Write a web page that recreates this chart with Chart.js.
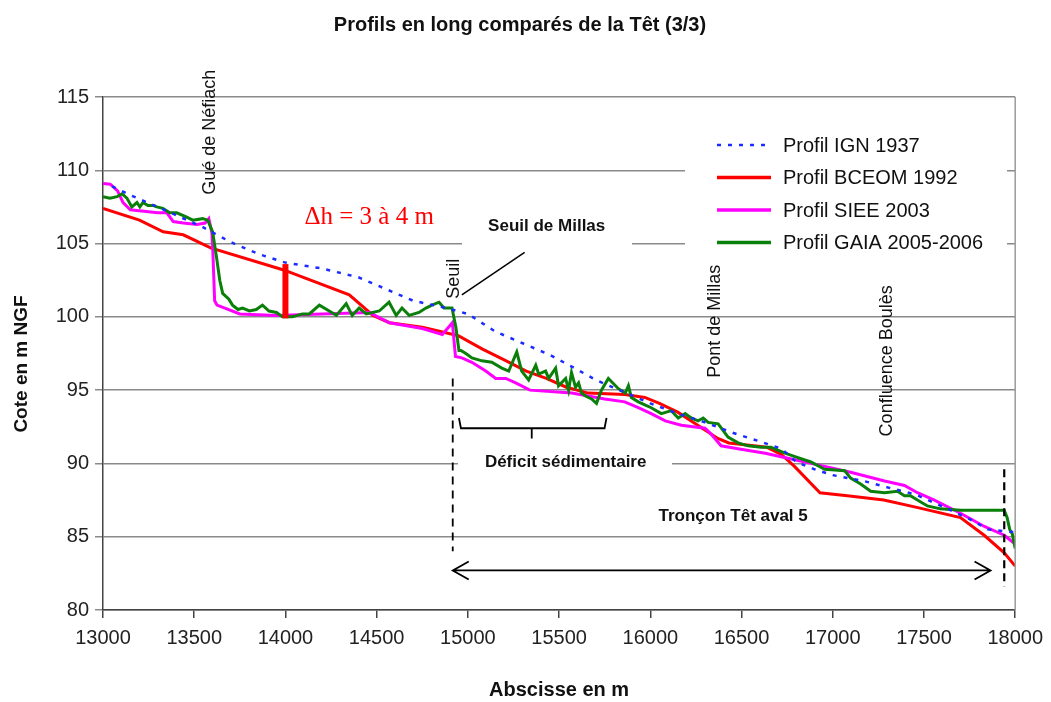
<!DOCTYPE html>
<html><head><meta charset="utf-8">
<script src="https://cdn.jsdelivr.net/npm/chart.js@4.4.0/dist/chart.umd.min.js"></script>
<style>html,body{margin:0;padding:0;background:#fff;}#wrap{width:1051px;height:702px;}</style>
</head><body><div id="wrap"><canvas id="c" width="1051" height="702"></canvas></div>
<script>
const chartTitle = 'Profils en long comparés de la Têt (3/3)';
const xAxisTitle = 'Abscisse en m';
const yAxisTitle = 'Cote en m NGF';
const seriesNames = ['Profil IGN 1937', 'Profil BCEOM 1992', 'Profil SIEE 2003', 'Profil GAIA 2005-2006'];
const seriesColors = ['#1a2cff', '#ff0000', '#ff00ff', '#0a800a'];

const xTicks = [13000,13500,14000,14500,15000,15500,16000,16500,17000,17500,18000];
const yTicks = [80,85,90,95,100,105,110,115];

const ignX = [13050,13150,13300,13550,13700,13850,14000,14200,14400,14550,14700,14850,15000,15150,15300,15450,15600,15700,15850,16000,16150,16300,16450,16600,16720,16800,16900,17000,17170,17320,17450,17630,17750,17850,18000];
const ignY = [108.9,108.3,107.5,106.1,105.1,104.3,103.7,103.3,102.7,101.9,101.1,100.7,100.2,99.0,98.2,97.4,96.4,95.7,94.9,94.1,93.4,92.8,92.1,91.5,91.0,90.1,89.6,89.2,88.8,88.3,87.9,86.9,86.2,85.5,85.3];

const bceomX = [13000,13200,13330,13440,13590,13990,14350,14480,14570,14750,14850,14950,15080,15210,15320,15430,15540,15660,15860,15970,16050,16150,16260,16370,16430,16640,16720,16790,16930,17080,17280,17460,17700,17830,17940,18000];
const bceomY = [107.4,106.6,105.8,105.6,104.7,103.2,101.5,100.1,99.6,99.3,99.0,98.7,97.8,97.0,96.3,95.8,95.2,94.8,94.7,94.5,94.1,93.5,92.6,91.7,91.4,91.1,90.6,89.8,88.0,87.8,87.5,87.0,86.3,85.1,83.9,83.0];

const sieeX = [13000,13040,13080,13110,13150,13300,13350,13385,13440,13515,13560,13580,13597,13602,13612,13625,13750,13950,14200,14460,14570,14750,14860,14915,14932,14967,15022,15098,15153,15208,15262,15340,15570,15750,15860,15934,16005,16082,16170,16300,16333,16388,16480,16630,16810,16956,17098,17284,17393,17464,17557,17700,17831,17940,18000];
const sieeY = [109.1,109.05,108.6,107.8,107.3,107.1,107.1,106.5,106.4,106.3,106.4,106.7,105.7,104.5,101.1,100.8,100.2,100.1,100.2,100.3,99.6,99.2,98.8,99.6,97.3,97.2,96.9,96.3,95.8,95.8,95.5,95.0,94.8,94.4,94.2,93.8,93.4,92.9,92.6,92.4,92.0,91.2,91.0,90.7,90.2,89.8,89.4,88.8,88.5,88.0,87.5,86.6,85.7,85.1,84.5];

const gaiaX = [13000,13038,13077,13104,13131,13158,13186,13202,13219,13246,13273,13295,13328,13366,13404,13459,13492,13546,13574,13601,13623,13640,13656,13690,13710,13740,13765,13803,13840,13874,13910,13951,13984,14038,14093,14131,14186,14240,14279,14333,14366,14404,14443,14514,14568,14607,14639,14678,14732,14770,14803,14842,14869,14913,14934,14951,14962,14989,15022,15077,15131,15186,15224,15268,15295,15333,15372,15388,15426,15443,15481,15497,15536,15552,15568,15590,15607,15623,15645,15678,15705,15732,15770,15825,15863,15880,15896,15934,15970,16005,16060,16115,16153,16191,16224,16262,16290,16317,16372,16426,16481,16536,16607,16661,16738,16809,16880,16956,17066,17098,17153,17208,17284,17355,17393,17426,17464,17519,17590,17700,17940,17956,17970,17984,18000];
const gaiaY = [108.2,108.1,108.2,108.4,108.1,107.5,107.8,107.5,107.8,107.6,107.6,107.5,107.4,107.1,107.1,106.8,106.6,106.7,106.6,105.8,104.0,102.5,101.6,101.2,100.8,100.5,100.6,100.4,100.5,100.8,100.4,100.3,100.0,100.0,100.2,100.2,100.8,100.4,100.1,100.9,100.1,100.6,100.2,100.4,101.0,100.1,100.6,100.1,100.3,100.6,100.8,101.0,100.6,100.6,99.3,97.7,97.7,97.5,97.2,97.0,96.9,96.5,96.3,97.6,96.3,95.7,96.7,96.1,96.3,95.8,96.5,95.3,95.8,95.0,96.2,95.2,95.5,94.8,94.6,94.4,94.1,95.0,95.8,95.1,94.8,95.3,94.5,94.2,94.0,93.8,93.4,93.6,93.1,93.4,93.1,92.9,93.1,92.8,92.7,91.8,91.4,91.2,91.1,91.1,90.7,90.4,90.1,89.6,89.5,89.0,88.6,88.1,88.0,88.1,87.8,87.8,87.5,87.1,86.9,86.8,86.8,86.3,85.5,85.2,84.2];

// Δh bar : abscissa, bottom, top
const deltaBar = [14000, 99.9, 103.6];

const FF = '"Liberation Sans", Arial, sans-serif';
const pts = (xs, ys) => xs.map((v, i) => ({x: v, y: ys[i]}));

const annot = {
  id: 'annot',
  beforeDatasetsDraw(chart) {
    const {ctx} = chart;
    ctx.save();
    ctx.fillStyle = '#fff';
    ctx.fillRect(685, 124, 322, 138);   // legend background
    ctx.fillRect(462, 208, 170, 42);    // "Seuil de Millas" label box
    ctx.fillRect(458, 449, 214, 26);    // "Déficit sédimentaire" label box
    ctx.restore();
  },
  afterDatasetsDraw(chart) {
    const {ctx, chartArea: a, scales: {x, y}} = chart;
    const X = v => x.getPixelForValue(v), Y = v => y.getPixelForValue(v);
    ctx.save();
    ctx.strokeStyle = '#999'; ctx.lineWidth = 1.5;
    ctx.beginPath(); ctx.moveTo(a.right, a.top); ctx.lineTo(a.right, a.bottom); ctx.stroke();

    ctx.strokeStyle = '#ff0000'; ctx.lineWidth = 6;
    ctx.beginPath(); ctx.moveTo(X(deltaBar[0]), Y(deltaBar[1])); ctx.lineTo(X(deltaBar[0]), Y(deltaBar[2])); ctx.stroke();

    ctx.strokeStyle = '#000'; ctx.lineWidth = 1.8; ctx.setLineDash([8, 6]);
    ctx.beginPath(); ctx.moveTo(X(14917), Y(95.8)); ctx.lineTo(X(14917), Y(84.0)); ctx.stroke();
    ctx.lineWidth = 2.2; ctx.setLineDash([8, 5]);
    ctx.beginPath(); ctx.moveTo(X(17940), Y(89.6)); ctx.lineTo(X(17940), Y(81.6)); ctx.stroke();
    ctx.setLineDash([]);

    ctx.lineWidth = 1.5;
    ctx.beginPath(); ctx.moveTo(X(14967), Y(101.5)); ctx.lineTo(X(15311), Y(104.4)); ctx.stroke();

    ctx.lineWidth = 1.8;
    ctx.beginPath();
    ctx.moveTo(X(14951), Y(93.1)); ctx.lineTo(X(14962), Y(92.4)); ctx.lineTo(X(15749), Y(92.4)); ctx.lineTo(X(15760), Y(93.1));
    ctx.moveTo(X(15350), Y(92.4)); ctx.lineTo(X(15350), Y(91.7));
    ctx.stroke();

    const ay = Y(82.7), ax1 = X(14917), ax2 = X(17865);
    ctx.lineWidth = 1.8;
    ctx.beginPath();
    ctx.moveTo(ax1, ay); ctx.lineTo(ax2, ay);
    ctx.moveTo(ax1 + 16, ay - 9); ctx.lineTo(ax1, ay); ctx.lineTo(ax1 + 16, ay + 9);
    ctx.moveTo(ax2 - 16, ay - 9); ctx.lineTo(ax2, ay); ctx.lineTo(ax2 - 16, ay + 9);
    ctx.stroke();

    ctx.fillStyle = '#111'; ctx.textAlign = 'center'; ctx.textBaseline = 'middle';
    ctx.font = 'bold 17px ' + FF;
    ctx.fillText('Seuil de Millas', X(15432), Y(106.2));
    ctx.fillText('Déficit sédimentaire', X(15536), Y(90.1));
    ctx.fillText('Tronçon Têt aval 5', X(16454), Y(86.4));

    ctx.fillStyle = '#ff0000';
    ctx.font = '25px "Liberation Serif", "Times New Roman", serif';
    ctx.fillText('Δh = 3 à 4 m', X(14459), Y(106.8));

    ctx.fillStyle = '#111';
    const rot = [['Gué de Néfiach', 13585, 112.6], ['Seuil', 14923, 102.6], ['Pont de Millas', 16355, 99.7], ['Confluence Boulès', 17300, 97.0]];
    ctx.font = '18px ' + FF;
    rot.forEach(([t, vx, vy]) => {
      ctx.save(); ctx.translate(X(vx), Y(vy)); ctx.rotate(-Math.PI / 2); ctx.fillText(t, 0, 0); ctx.restore();
    });

    ctx.font = 'bold 19px ' + FF;
    ctx.save(); ctx.translate(22, 364); ctx.rotate(-Math.PI / 2); ctx.fillText(yAxisTitle, 0, 0); ctx.restore();

    ctx.font = 'bold 20px ' + FF;
    ctx.fillText(chartTitle, 520, 25);

    ctx.textAlign = 'left';
    ctx.font = '20px ' + FF;
    chart.data.datasets.forEach((ds, i) => {
      const ly = 145 + 32.5 * i;
      ctx.strokeStyle = ds.borderColor;
      ctx.lineWidth = i === 0 ? 2.5 : 3.5;
      ctx.setLineDash(i === 0 ? [4, 7] : []);
      ctx.beginPath(); ctx.moveTo(717, ly); ctx.lineTo(771, ly); ctx.stroke();
      ctx.setLineDash([]);
      ctx.fillStyle = '#111';
      ctx.fillText(ds.label, 783, ly + 1);
    });
    ctx.restore();
  }
};

const mk = (i, xs, ys, extra) => Object.assign({
  label: seriesNames[i], data: pts(xs, ys), showLine: true,
  borderColor: seriesColors[i], backgroundColor: seriesColors[i],
  borderWidth: 3, pointRadius: 0, tension: 0, fill: false
}, extra);

new Chart(document.getElementById('c'), {
  type: 'scatter',
  data: {
    datasets: [
      mk(0, ignX, ignY, {borderWidth: 2.5, borderDash: [4, 7], order: 1}),
      mk(1, bceomX, bceomY, {order: 4}),
      mk(2, sieeX, sieeY, {order: 3}),
      mk(3, gaiaX, gaiaY, {order: 2})
    ]
  },
  options: {
    responsive: false, animation: false, devicePixelRatio: 1,
    layout: {padding: {top: 97, right: 30, left: 0, bottom: 0}},
    plugins: {legend: {display: false}, tooltip: {enabled: false}, title: {display: false}},
    scales: {
      x: {
        type: 'linear', min: 13000, max: 18000,
        afterBuildTicks: s => { s.ticks = xTicks.map(v => ({value: v})); },
        afterFit: s => { s.height = 92; },
        ticks: {font: {family: FF, size: 20}, color: '#222', padding: 8, maxRotation: 0, autoSkip: false, callback: v => String(v)},
        grid: {drawOnChartArea: false, drawTicks: true, tickLength: 8, color: '#444', lineWidth: 1.5},
        border: {color: '#444', width: 1.5},
        title: {display: true, text: xAxisTitle, color: '#111', font: {family: FF, size: 20, weight: 'bold'}, padding: {top: 0, bottom: 0}}
      },
      y: {
        type: 'linear', min: 80, max: 115,
        afterBuildTicks: s => { s.ticks = yTicks.map(v => ({value: v})); },
        afterFit: s => { s.width = 103; },
        ticks: {font: {family: FF, size: 20}, color: '#222', padding: 6, callback: v => String(v)},
        grid: {color: '#8a8a8a', lineWidth: 1.5, tickLength: 8},
        border: {color: '#444', width: 1.5}
      }
    }
  },
  plugins: [annot]
});
</script></body></html>
